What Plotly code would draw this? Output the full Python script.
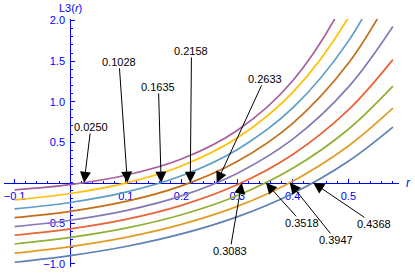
import plotly.graph_objects as go

# ---- data ----
r_pts = [-0.1, 0.0, 0.1, 0.2, 0.3, 0.4, 0.5, 0.58]

zero_crossings = [0.0250, 0.1028, 0.1635, 0.2158, 0.2633, 0.3083, 0.3518, 0.3947, 0.4368]

curve_0250 = [-0.088, -0.023, 0.092, 0.292, 0.644, 1.259, 2.337, 3.760]
curve_1028 = [-0.212, -0.133, -0.005, 0.206, 0.551, 1.114, 2.036, 3.180]
curve_1635 = [-0.323, -0.244, -0.117, 0.085, 0.408, 0.923, 1.747, 2.747]
curve_2158 = [-0.431, -0.353, -0.231, -0.039, 0.262, 0.733, 1.473, 2.357]
curve_2633 = [-0.542, -0.463, -0.344, -0.162, 0.115, 0.537, 1.179, 1.927]
curve_3083 = [-0.648, -0.569, -0.452, -0.279, -0.026, 0.348, 0.898, 1.519]
curve_3518 = [-0.756, -0.675, -0.560, -0.395, -0.160, 0.178, 0.660, 1.192]
curve_3947 = [-0.870, -0.788, -0.674, -0.514, -0.292, 0.019, 0.453, 0.920]
curve_4368 = [-0.981, -0.899, -0.787, -0.632, -0.421, -0.132, 0.265, 0.686]

x_tick_vals = [-0.1, 0.1, 0.2, 0.3, 0.4, 0.5]
x_tick_text = ["\u22120.1", "0.1", "0.2", "0.3", "0.4", "0.5"]
y_tick_vals = [-1.0, -0.5, 0.5, 1.0, 1.5, 2.0]
y_tick_text = ["\u22121.0", "\u22120.5", "0.5", "1.0", "1.5", "2.0"]

# ---- styling / layout ----
curves = [curve_4368, curve_3947, curve_3518, curve_3083, curve_2633,
          curve_2158, curve_1635, curve_1028, curve_0250]
colors = ["#5E81B5", "#E19C24", "#8FB032", "#EB6235", "#8778B3",
          "#C56E1A", "#5D9EC7", "#FFBF00", "#A5609D"]

# label centre positions (data coords) for each crossing annotation, same order as zero_crossings
label_pos = [(0.0372, 0.689), (0.0878, 1.491), (0.1586, 1.183), (0.2180, 1.627),
             (0.3493, 1.281), (0.2872, -0.842), (0.4167, -0.496), (0.4770, -0.706),
             (0.5462, -0.509)]

xr = [-0.119, 0.591]
yr = [-1.04, 2.02]
W, H = 415, 273
ml, mr, mt, mb = 4.14, 16.1, 19.2, 6.0

blue = "#0000FF"
font_fam = "Liberation Sans, Arial, sans-serif"

fig = go.Figure()
for ys, c in zip(curves, colors):
    fig.add_trace(go.Scatter(x=r_pts, y=ys, mode="lines",
                             line=dict(color=c, width=1.7, shape="spline", smoothing=1.0),
                             showlegend=False, hoverinfo="skip"))

annotations = []
for r0, (lx, ly) in zip(zero_crossings, label_pos):
    annotations.append(dict(
        x=r0, y=0, xref="x", yref="y",
        ax=lx, ay=ly, axref="x", ayref="y",
        text=f"{r0:.4f}", showarrow=True,
        arrowhead=2, arrowsize=2.2, arrowwidth=1, arrowcolor="black",
        font=dict(family=font_fam, size=11, color="black"),
        borderpad=0, standoff=0,
    ))

xpos = (0 - xr[0]) / (xr[1] - xr[0])
ypos = (0 - yr[0]) / (yr[1] - yr[0])

annotations.append(dict(
    x=xpos, xref="paper", y=1.045, yref="paper",
    text="L3(<i>r</i>)", showarrow=False, xanchor="center", yanchor="middle",
    font=dict(family=font_fam, size=11, color=blue)))
annotations.append(dict(
    x=1.0, xref="paper", y=0, yref="y", xshift=9,
    text="<i>r</i>", showarrow=False, xanchor="center", yanchor="middle",
    font=dict(family=font_fam, size=12, color=blue)))

fig.update_layout(
    width=W, height=H,
    margin=dict(l=ml, r=mr, t=mt, b=mb, autoexpand=False),
    paper_bgcolor="white", plot_bgcolor="white",
    annotations=annotations,
    xaxis=dict(
        range=xr, anchor="free", position=ypos,
        showline=True, linecolor=blue, linewidth=1,
        showgrid=False, zeroline=False,
        tickmode="array", tickvals=x_tick_vals, ticktext=x_tick_text,
        ticks="inside", ticklen=4, tickwidth=1, tickcolor=blue,
        tickfont=dict(family=font_fam, size=11, color=blue),
        ticklabelstandoff=3,
        minor=dict(dtick=0.02, tick0=0, ticks="inside", ticklen=2, tickwidth=1,
                   tickcolor=blue, showgrid=False),
        layer="below traces",
    ),
    yaxis=dict(
        range=yr, anchor="free", position=xpos,
        showline=True, linecolor=blue, linewidth=1,
        showgrid=False, zeroline=False,
        tickmode="array", tickvals=y_tick_vals, ticktext=y_tick_text,
        ticks="inside", ticklen=4, tickwidth=1, tickcolor=blue,
        tickfont=dict(family=font_fam, size=11, color=blue),
        ticklabelstandoff=3,
        minor=dict(dtick=0.1, tick0=0, ticks="inside", ticklen=2, tickwidth=1,
                   tickcolor=blue, showgrid=False),
        layer="below traces",
    ),
)

fig.write_html("out.html",
               config={"displayModeBar": False, "staticPlot": True},
               post_script="document.body.style.margin='0';document.body.style.overflow='hidden';")
